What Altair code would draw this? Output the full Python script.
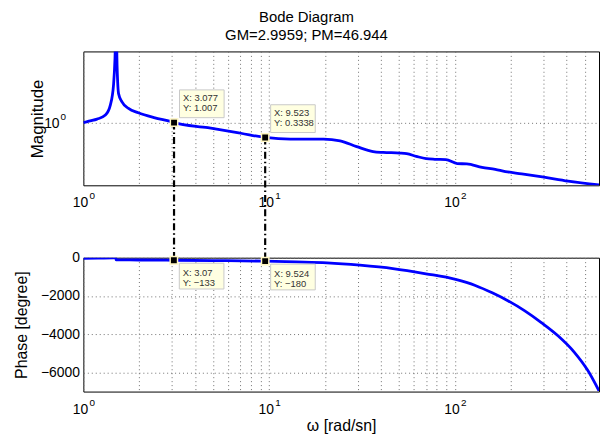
import altair as alt
import pandas as pd

# ---- data ----
mag_freq = [1.0, 1.07, 1.185, 1.314, 1.397, 1.455, 1.48, 1.5, 1.52, 1.547, 1.614, 1.75,
            1.976, 2.43, 2.98, 3.077, 4.68, 7.05, 9.523, 13.0, 19.6, 24.1, 29.6, 36.3,
            41.1, 50.6, 55.0, 62.0, 70.0, 78.0, 89.4, 103.0, 116.0, 140.0, 165.0, 187.0,
            229.0, 302.0, 407.0, 597.0]
mag_vals = [1.0, 1.13, 1.31, 1.76, 3.7, 18.0, 120.0, 2000.0, 60.0, 8.7, 4.7, 2.9,
            2.09, 1.44, 1.08, 1.007, 0.69, 0.457, 0.3338, 0.295, 0.295, 0.26, 0.17, 0.1175,
            0.11, 0.105, 0.1, 0.082, 0.069, 0.066, 0.0646, 0.048, 0.0468, 0.0363, 0.031, 0.0266,
            0.0224, 0.0174, 0.013, 0.0098]

phase_freq = [1.0, 1.2, 1.45, 1.495, 1.5, 2.0, 3.07, 5.0, 9.524, 14.0, 20.5, 30.8, 46.4,
              69.9, 100.9, 128.8, 160.0, 193.9, 238.0, 292.0, 359.0, 440.0, 520.0, 597.0]
phase_vals = [-40, -25, -5, -10, -115, -120, -133, -150, -180, -220, -270, -390, -565,
              -840, -1135, -1450, -1850, -2260, -2780, -3390, -4080, -4945, -5900, -6960]

tip_freq_mag = [3.077, 9.523]
tip_val_mag = [1.007, 0.3338]
tip_xtext_mag = ["X: 3.077", "X: 9.523"]
tip_ytext_mag = ["Y: 1.007", "Y: 0.3338"]

tip_freq_phase = [3.07, 9.524]
tip_val_phase = [-133, -180]
tip_xtext_phase = ["X: 3.07", "X: 9.524"]
tip_ytext_phase = ["Y: \u2212133", "Y: \u2212180"]

decades = [1, 10, 100]
decade_exp = ["0", "1", "2"]
grid_freq = [1, 2, 3, 4, 5, 6, 7, 8, 9, 10, 20, 30, 40, 50, 60, 70, 80, 90,
             100, 200, 300, 400, 500]
mag_ticks = [1]
mag_tick_base = ["10"]
mag_tick_exp = ["0"]
phase_ticks = [0, -2000, -4000, -6000]

title_text = "Bode Diagram"
subtitle_text = "GM=2.9959; PM=46.944"
mag_title = "Magnitude"
phase_title = "Phase [degree]"
freq_title = "\u03c9 [rad/sn]"

# ---- layout / style ----
W = 520
H_TOP = 135
H_BOT = 135
GAP = 73
FONT = "Liberation Sans"
BLUE = "#0000ff"
TIP_FILL = "#ffffe1"
TIP_STROKE = "#c8c8c8"

mag_df = pd.DataFrame({"w": mag_freq, "v": mag_vals})
phase_df = pd.DataFrame({"w": phase_freq, "v": phase_vals})
tip_mag_df = pd.DataFrame({"w": tip_freq_mag, "v": tip_val_mag,
                           "tx": tip_xtext_mag, "ty": tip_ytext_mag})
tip_phase_df = pd.DataFrame({"w": tip_freq_phase, "v": tip_val_phase,
                             "tx": tip_xtext_phase, "ty": tip_ytext_phase})
dec_df = pd.DataFrame({"w": decades, "e": decade_exp})
magtick_df = pd.DataFrame({"v": mag_ticks, "b": mag_tick_base, "e": mag_tick_exp})

xscale = alt.Scale(type="log", domain=[1, 597], nice=False)
grid_kw = dict(grid=True, gridColor="#707070", gridDash=[1, 3], gridWidth=1,
               ticks=False, domain=False)

x_top = alt.X("w:Q", scale=xscale,
              axis=alt.Axis(values=grid_freq, labels=False, title=None,
                            minExtent=0, maxExtent=0, **grid_kw))
x_bot = alt.X("w:Q", scale=xscale,
              axis=alt.Axis(values=grid_freq, labels=False, title=freq_title,
                            titleFontSize=16, titleFontWeight="normal", titleFont=FONT,
                            titleColor="black", titlePadding=26, minExtent=0, maxExtent=0,
                            **grid_kw))

yscale_mag = alt.Scale(type="log", domain=[0.00955, 199.5], nice=False)
y_mag = alt.Y("v:Q", scale=yscale_mag,
              axis=alt.Axis(values=mag_ticks, labels=False, title=mag_title,
                            titleFontSize=17, titleFontWeight="normal", titleFont=FONT,
                            titleColor="black", titlePadding=37, minExtent=0, maxExtent=0,
                            **grid_kw))

yscale_ph = alt.Scale(domain=[-7000, 0], nice=False, zero=False)
y_ph = alt.Y("v:Q", scale=yscale_ph,
             axis=alt.Axis(values=phase_ticks, title=phase_title, format="d",
                           labelFontSize=14, labelFont=FONT, labelColor="black",
                           labelPadding=4, titleFontSize=16, titleFontWeight="normal",
                           titleFont=FONT, titleColor="black", titlePadding=11,
                           minExtent=43, maxExtent=43, **grid_kw))

dash = [7, 3, 1.5, 3]

# ---- top panel ----
mag_line = alt.Chart(mag_df).mark_line(color=BLUE, strokeWidth=2.8, clip=True,
                                       interpolate="monotone").encode(x=x_top, y=y_mag)
mag_rule = alt.Chart(tip_mag_df).mark_rule(color="black", strokeWidth=2.2, strokeDash=dash).encode(
    x=x_top, y=y_mag, y2=alt.value(H_TOP + GAP))
mag_box = alt.Chart(tip_mag_df).mark_rect(width=45, height=28, xOffset=28, yOffset=-19,
                                         fill=TIP_FILL, stroke=TIP_STROKE, strokeWidth=1).encode(x=x_top, y=y_mag)
mag_tx = alt.Chart(tip_mag_df).mark_text(align="left", baseline="middle", dx=9, dy=-25,
                                        fontSize=9.5, font=FONT, color="#333").encode(x=x_top, y=y_mag, text="tx:N")
mag_ty = alt.Chart(tip_mag_df).mark_text(align="left", baseline="middle", dx=9, dy=-15,
                                        fontSize=9.5, font=FONT, color="#333").encode(x=x_top, y=y_mag, text="ty:N")
mag_pt = alt.Chart(tip_mag_df).mark_square(size=55, fill="black", stroke="#fff6c0", strokeWidth=1.5,
                                          opacity=1).encode(x=x_top, y=y_mag)
top_dec = alt.Chart(dec_df).mark_text(text="10", align="center", baseline="middle", dx=-3,
                                      fontSize=14, font=FONT, color="black").encode(
    x=x_top, y=alt.value(H_TOP + 18))
top_exp = alt.Chart(dec_df).mark_text(align="center", baseline="middle", dx=9, dy=-7,
                                      fontSize=10, font=FONT, color="black").encode(
    x=x_top, y=alt.value(H_TOP + 18), text="e:N")
ytick_b = alt.Chart(magtick_df).mark_text(align="right", baseline="middle", dy=1,
                                         fontSize=14, font=FONT, color="black").encode(
    x=alt.value(-24), y=y_mag, text="b:N")
ytick_e = alt.Chart(magtick_df).mark_text(align="left", baseline="middle", dy=-6,
                                         fontSize=10, font=FONT, color="black").encode(
    x=alt.value(-23), y=y_mag, text="e:N")

top = alt.layer(mag_line, mag_rule, mag_box, mag_tx, mag_ty, mag_pt, top_dec, top_exp,
                ytick_b, ytick_e).properties(width=W, height=H_TOP)

# ---- bottom panel ----
ph_line = alt.Chart(phase_df).mark_line(color=BLUE, strokeWidth=2.8, clip=True,
                                        interpolate="monotone").encode(x=x_bot, y=y_ph)
ph_rule = alt.Chart(tip_phase_df).mark_rule(color="black", strokeWidth=2.2, strokeDash=dash).encode(
    x=x_bot, y=y_ph, y2=alt.value(0))
ph_box = alt.Chart(tip_phase_df).mark_rect(width=45, height=26, xOffset=28, yOffset=16,
                                          fill=TIP_FILL, stroke=TIP_STROKE, strokeWidth=1).encode(x=x_bot, y=y_ph)
ph_tx = alt.Chart(tip_phase_df).mark_text(align="left", baseline="middle", dx=9, dy=13,
                                         fontSize=9.5, font=FONT, color="#333").encode(x=x_bot, y=y_ph, text="tx:N")
ph_ty = alt.Chart(tip_phase_df).mark_text(align="left", baseline="middle", dx=9, dy=23,
                                         fontSize=9.5, font=FONT, color="#333").encode(x=x_bot, y=y_ph, text="ty:N")
ph_pt = alt.Chart(tip_phase_df).mark_square(size=55, fill="black", stroke="#fff6c0", strokeWidth=1.5,
                                           opacity=1).encode(x=x_bot, y=y_ph)
bot_dec = alt.Chart(dec_df).mark_text(text="10", align="center", baseline="middle", dx=-3,
                                      fontSize=14, font=FONT, color="black").encode(
    x=x_bot, y=alt.value(H_BOT + 19))
bot_exp = alt.Chart(dec_df).mark_text(align="center", baseline="middle", dx=9, dy=-7,
                                      fontSize=10, font=FONT, color="black").encode(
    x=x_bot, y=alt.value(H_BOT + 19), text="e:N")

bottom = alt.layer(ph_line, ph_rule, ph_box, ph_tx, ph_ty, ph_pt, bot_dec, bot_exp).properties(
    width=W, height=H_BOT)

chart = alt.vconcat(
    top, bottom, spacing=GAP, bounds="flush",
    title=alt.Title(text=title_text, subtitle=subtitle_text, anchor="middle",
                    fontSize=15, fontWeight="normal", font=FONT, color="black",
                    subtitleFontSize=15, subtitleFont=FONT, subtitleColor="black",
                    subtitlePadding=3, offset=8),
    padding={"left": 5, "top": 0, "right": 0, "bottom": 0},
).configure(font=FONT, background="white").configure_view(stroke="black", strokeWidth=1)

chart.save("out.html", embed_options={"renderer": "svg", "actions": False})
